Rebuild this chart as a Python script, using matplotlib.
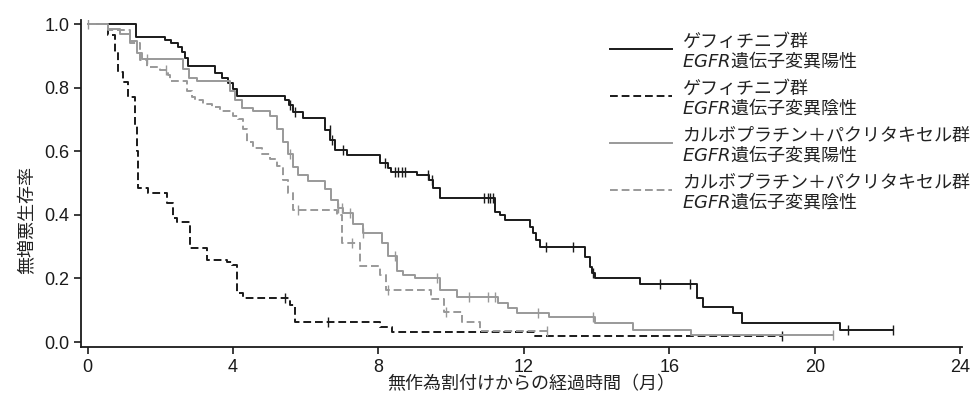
import numpy as np
import matplotlib
matplotlib.use("Agg")
import matplotlib.pyplot as plt
from matplotlib.lines import Line2D

plt.rcParams['font.family'] = ['Liberation Sans', 'Noto Sans CJK JP']
plt.rcParams['mathtext.fontset'] = 'custom'
plt.rcParams['mathtext.it'] = 'Liberation Sans Narrow:italic'

# ゲフィチニブ群 EGFR遺伝子変異陽性
gef_pos_t = [0, 1.33, 2.13, 2.3, 2.48, 2.6, 2.68, 2.76, 3.5, 3.7, 3.87, 4.0, 4.11,
             5.43, 5.55, 5.65, 5.93, 6.53, 6.68, 6.8, 7.14, 8.05, 8.25, 8.35, 9.06,
             9.4, 9.5, 9.7, 11.2, 11.35, 11.48, 12.16, 12.25, 12.33, 12.45, 13.68,
             13.82, 13.88, 13.96, 15.2, 16.77, 16.93, 17.76, 18.0, 20.7, 22.16]
gef_pos_s = [1.0, 0.96, 0.95, 0.94, 0.928, 0.912, 0.893, 0.868, 0.846, 0.83, 0.815, 0.795, 0.775,
             0.76, 0.745, 0.723, 0.704, 0.667, 0.635, 0.604, 0.588, 0.563, 0.547, 0.535, 0.525,
             0.51, 0.484, 0.453, 0.409, 0.4, 0.384, 0.362, 0.343, 0.321, 0.299, 0.267,
             0.236, 0.217, 0.201, 0.182, 0.138, 0.11, 0.091, 0.06, 0.038, 0.038]
gef_pos_cens = [5.57, 5.7, 6.67, 6.73, 7.03, 8.18, 8.46, 8.55, 8.64, 8.73, 9.37, 9.48,
                10.9, 11.0, 11.08, 11.15, 12.6, 13.36, 13.9, 15.75, 16.57, 20.92, 22.16]

# ゲフィチニブ群 EGFR遺伝子変異陰性
gef_neg_t = [0, 0.56, 0.76, 0.84, 0.98, 1.11, 1.3, 1.36, 1.4, 1.66, 2.19, 2.35, 2.45,
             2.82, 3.29, 3.84, 3.98, 4.12, 4.28, 5.57, 5.71, 8.05, 8.38, 12.3, 19.1]
gef_neg_s = [1.0, 0.965, 0.912, 0.849, 0.818, 0.77, 0.68, 0.6, 0.484, 0.469, 0.437, 0.39, 0.377,
             0.296, 0.258, 0.252, 0.242, 0.154, 0.138, 0.116, 0.063, 0.047, 0.031, 0.019, 0.019]
gef_neg_cens = [5.43, 6.62, 19.1]

# カルボプラチン＋パクリタキセル群 EGFR遺伝子変異陽性
cp_pos_t = [0, 0.56, 0.9, 1.17, 1.36, 1.5, 2.63, 2.8, 3.0, 3.92, 4.06, 4.25, 4.55,
            5.02, 5.2, 5.38, 5.52, 5.66, 5.8, 6.05, 6.53, 6.7, 6.9, 7.03, 7.3, 7.58,
            8.1, 8.25, 8.5, 8.67, 9.0, 9.7, 10.15, 11.28, 11.57, 11.8, 12.7, 13.95,
            15.0, 16.6, 20.5]
cp_pos_s = [1.0, 0.985, 0.97, 0.945, 0.91, 0.89, 0.86, 0.83, 0.82, 0.79, 0.76, 0.735, 0.725,
            0.71, 0.67, 0.63, 0.59, 0.55, 0.525, 0.505, 0.48, 0.445, 0.42, 0.405, 0.37, 0.343,
            0.31, 0.27, 0.222, 0.21, 0.2, 0.164, 0.142, 0.123, 0.107, 0.091, 0.078, 0.06,
            0.038, 0.022, 0.022]
cp_pos_cens = [0.0, 1.64, 5.57, 6.9, 7.0, 7.22, 7.58, 8.46, 9.6, 10.5, 11.0, 11.2,
               12.4, 13.9, 20.5]

# カルボプラチン＋パクリタキセル群 EGFR遺伝子変異陰性
cp_neg_t = [0, 0.56, 1.17, 1.44, 1.64, 2.0, 2.2, 2.28, 2.74, 2.86, 2.95, 3.18, 3.42,
            3.65, 4.0, 4.14, 4.28, 4.39, 4.55, 4.8, 5.02, 5.2, 5.38, 5.52, 5.66, 6.87,
            7.0, 7.5, 8.05, 8.2, 9.45, 9.8, 10.3, 10.8, 12.65]
cp_neg_s = [1.0, 0.98, 0.94, 0.887, 0.865, 0.855, 0.84, 0.82, 0.79, 0.77, 0.76, 0.75, 0.74,
            0.725, 0.71, 0.7, 0.67, 0.63, 0.61, 0.59, 0.575, 0.555, 0.51, 0.47, 0.415, 0.4,
            0.31, 0.24, 0.21, 0.165, 0.135, 0.094, 0.063, 0.035, 0.035]
cp_neg_cens = [2.16, 5.78, 7.28, 8.25, 9.85, 12.65]

group_names = ['ゲフィチニブ群', 'ゲフィチニブ群',
               'カルボプラチン＋パクリタキセル群', 'カルボプラチン＋パクリタキセル群']
mutation_names = ['$\\mathit{EGFR}$遺伝子変異陽性', '$\\mathit{EGFR}$遺伝子変異陰性',
                  '$\\mathit{EGFR}$遺伝子変異陽性', '$\\mathit{EGFR}$遺伝子変異陰性']

xticks = [0, 4, 8, 12, 16, 20, 24]
yticks = [0.0, 0.2, 0.4, 0.6, 0.8, 1.0]

fig = plt.figure(figsize=(9.74, 4.08), dpi=100)
ax = fig.add_axes([81 / 974, 1 - 347 / 408, 881 / 974, 327 / 408])

series = [(gef_pos_t, gef_pos_s, gef_pos_cens, '#1a1a1a', '-'),
          (gef_neg_t, gef_neg_s, gef_neg_cens, '#1a1a1a', (0, (4, 2))),
          (cp_pos_t, cp_pos_s, cp_pos_cens, '#999999', '-'),
          (cp_neg_t, cp_neg_s, cp_neg_cens, '#999999', (0, (4, 2)))]

for t, s, cens, col, ls in series:
    ax.step(t, s, where='post', color=col, lw=1.4, ls=ls)
    idx = np.searchsorted(t, cens, side='right') - 1
    ax.plot(cens, np.array(s)[idx], ls='none', marker='|', ms=7, mew=1.0, color=col)

ax.set_xlim(-0.18, 24.05)
ax.set_ylim(-0.0157, 1.0126)
ax.set_xticks(xticks)
ax.set_yticks(yticks)
ax.set_xticklabels([str(x) for x in xticks])
ax.set_yticklabels(['%.1f' % y for y in yticks])
ax.tick_params(labelsize=13, length=5, width=1.2, colors='#1a1a1a')
for side in ['top', 'right']:
    ax.spines[side].set_visible(False)
for side in ['left', 'bottom']:
    ax.spines[side].set_linewidth(1.3)
    ax.spines[side].set_color('#1a1a1a')

ax.set_xlabel('無作為割付けからの経過時間（月）', fontsize=13, color='#222222')
ax.set_ylabel('無増悪生存率', fontsize=13, color='#222222')
ax.xaxis.set_label_coords(0.511, -0.088)
ax.yaxis.set_label_coords(-0.051, 0.388)

# legend, drawn by hand so that each label can have two lines with italic EGFR
cjk = ['Noto Sans CJK JP', 'DejaVu Sans']
for i, (t, s, cens, col, ls) in enumerate(series):
    yc = 1 - (49 + 47 * i) / 408
    fig.add_artist(Line2D([610 / 974, 672 / 974], [yc, yc], transform=fig.transFigure,
                          color=col, lw=1.4, ls=ls))
    fig.text(682 / 974, yc + 7 / 408, group_names[i], family=cjk, fontsize=13,
             va='center', ha='left', color='#222222')
    fig.text(682 / 974, yc - 11 / 408, mutation_names[i], family=cjk, fontsize=13,
             va='center', ha='left', color='#222222')

plt.savefig('out.png', dpi=100)
